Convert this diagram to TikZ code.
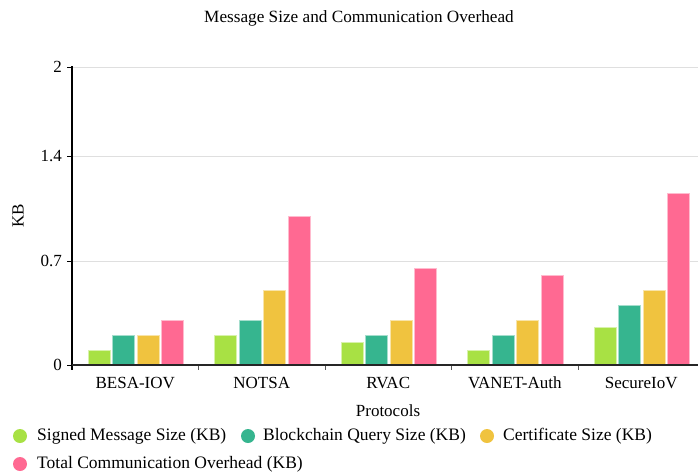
\documentclass[tikz,border=0pt]{standalone}
\usepackage{fontspec}
\setmainfont{Liberation Serif}
\definecolor{msgcol}{HTML}{A8E144}
\definecolor{chaincol}{HTML}{36B58F}
\definecolor{certcol}{HTML}{F0C33F}
\definecolor{totalcol}{HTML}{FF6992}
\tikzset{
    kbbar/.style = {fill = #1, draw = #1!45!white, line width = 0.8pt},
    legdot/.style = {circle, fill = #1, minimum size = 14pt, inner sep = 0pt},
    legtext/.style = {anchor = west, inner sep = 0pt, font = \fontsize{17.5}{20}\selectfont}
}
\begin{document}
\begin{tikzpicture}[x = 1pt, y = -1pt]
        \useasboundingbox (0,0) rectangle (698,475);
        \node (title) at (359,18) {\fontsize{17.2}{19}\selectfont Message Size and Communication Overhead};
        \begin{scope}[every node/.append style = {font = \fontsize{17}{19}\selectfont}]
            \foreach \v/\lab [count = \i] in {0/0, 0.7/0.7, 1.4/1.4, 2/2} {
                \pgfmathsetmacro\yy{365-149*\v}
                \ifnum\i>1
                    \draw[style = thin, gray!25!white] (72,\yy) -- (698,\yy);
                \fi
                \draw (67,\yy) -- (72,\yy);
                \node[anchor = east, inner sep = 0pt] (ytick\i) at (62,\yy) {\lab};
            }
            \foreach \x in {198.5, 325, 451.5, 578} {
                \draw[gray!70!black] (\x,365) -- (\x,370);
            }
            \foreach \name [count = \i from 0] in {BESA-IOV, NOTSA, RVAC, VANET-Auth, SecureIoV} {
                \node (cat\i) at (72+126.5*\i+63.25,383) {\name};
            }
            \node (xlabel) at (388,411) {Protocols};
            \node[rotate = 90] (ylabel) at (18,216) {KB};
        \end{scope}
        \begin{scope}
            \foreach \a/\b/\c/\d [count = \i from 0] in {0.1/0.2/0.2/0.3, 0.2/0.3/0.5/1.0, 0.15/0.2/0.3/0.65, 0.1/0.2/0.3/0.6, 0.25/0.4/0.5/1.15} {
                \pgfmathsetmacro\cx{72+126.5*\i}
                \filldraw[kbbar = msgcol] (\cx+16,365) rectangle (\cx+38,365-149*\a);
                \filldraw[kbbar = chaincol] (\cx+40.5,365) rectangle (\cx+62.5,365-149*\b);
                \filldraw[kbbar = certcol] (\cx+65,365) rectangle (\cx+87,365-149*\c);
                \filldraw[kbbar = totalcol] (\cx+89.5,365) rectangle (\cx+111.5,365-149*\d);
            }
        \end{scope}
        \draw[line width = 1.1pt] (72,66) -- (72,370);
        \draw[line width = 1.3pt, gray!30!black] (72,365) -- (698,365);
        % legend
        \node[legdot = msgcol] (dotmsg) at (20,436) {};
        \node[legtext] (legmsg) at (37,436) {Signed Message Size (KB)};
        \node[legdot = chaincol] (dotchain) at (248,436) {};
        \node[legtext] (legchain) at (263,436) {Blockchain Query Size (KB)};
        \node[legdot = certcol] (dotcert) at (487,436) {};
        \node[legtext] (legcert) at (503,436) {Certificate Size (KB)};
        \node[legdot = totalcol] (dottotal) at (20,464) {};
        \node[legtext] (legtotal) at (37,464) {Total Communication Overhead (KB)};
\end{tikzpicture}
\end{document}
